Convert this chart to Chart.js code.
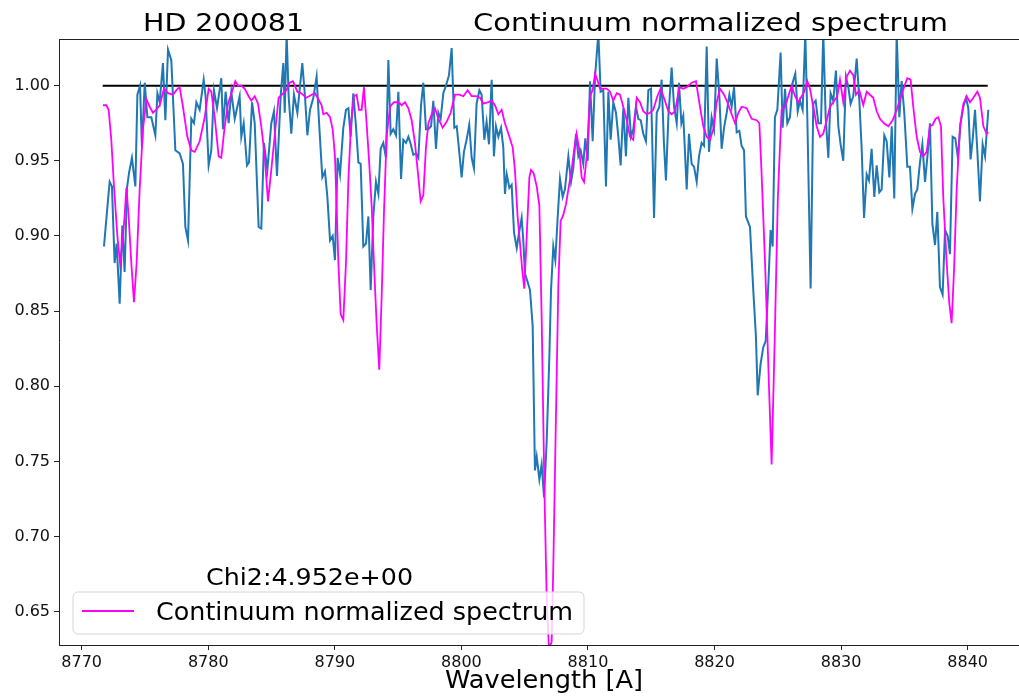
<!DOCTYPE html>
<html>
<head>
<meta charset="utf-8">
<title>HD 200081</title>
<script src="https://cdn.jsdelivr.net/npm/chart.js@4.4.1/dist/chart.umd.min.js"></script>
<style>
  body { margin: 0; background: #fff; }
  canvas { display: block; }
</style>
</head>
<body>
<canvas id="spectrumChart" width="1019" height="697"></canvas>
<script>
// Espectro observado (azul)
const obsWave = [
  8771.76, 8772.08, 8772.21, 8772.39, 8772.60, 8772.76, 8773.00, 8773.21, 8773.39, 8773.58,
  8773.74, 8773.97, 8774.24, 8774.40, 8774.61, 8774.76, 8774.98, 8775.19, 8775.50, 8775.82,
  8775.98, 8776.16, 8776.42, 8776.61, 8776.82, 8777.08, 8777.40, 8777.74, 8778.00, 8778.19,
  8778.40, 8778.66, 8778.87, 8779.06, 8779.32, 8779.64, 8779.79, 8780.03, 8780.24, 8780.45,
  8780.69, 8781.03, 8781.16, 8781.37, 8781.61, 8781.82, 8782.09, 8782.48, 8782.61, 8782.80,
  8783.06, 8783.22, 8783.46, 8783.67, 8783.98, 8784.19, 8784.40, 8784.67, 8784.98, 8785.19,
  8785.43, 8785.72, 8785.93, 8786.04, 8786.19, 8786.35, 8786.56, 8786.77, 8787.04, 8787.43,
  8787.64, 8787.83, 8788.04, 8788.30, 8788.56, 8788.77, 8789.01, 8789.22, 8789.41, 8789.62,
  8789.83, 8790.01, 8790.22, 8790.41, 8790.67, 8790.88, 8791.07, 8791.25, 8791.46, 8791.67,
  8791.86, 8792.04, 8792.25, 8792.46, 8792.65, 8792.83, 8793.04, 8793.25, 8793.44, 8793.62,
  8793.83, 8794.04, 8794.23, 8794.41, 8794.62, 8794.83, 8795.02, 8795.23, 8795.41, 8795.62,
  8795.81, 8796.00, 8796.20, 8796.41, 8796.60, 8796.81, 8796.99, 8797.20, 8797.39, 8797.60,
  8797.78, 8797.99, 8798.18, 8798.36, 8798.57, 8798.78, 8799.02, 8799.23, 8799.44, 8799.63,
  8799.84, 8800.02, 8800.20, 8800.41, 8800.62, 8800.81, 8800.99, 8801.20, 8801.42, 8801.60,
  8801.81, 8801.99, 8802.18, 8802.39, 8802.57, 8802.73, 8802.92, 8803.13, 8803.31, 8803.44,
  8803.58, 8803.79, 8803.97, 8804.16, 8804.37, 8804.55, 8804.76, 8804.89, 8805.02, 8805.21,
  8805.42, 8805.63, 8805.81, 8805.95, 8806.16, 8806.34, 8806.53, 8806.74, 8806.95, 8807.08,
  8807.26, 8807.42, 8807.61, 8807.79, 8808.00, 8808.18, 8808.45, 8808.66, 8808.84, 8809.05,
  8809.24, 8809.42, 8809.63, 8809.79, 8809.98, 8810.16, 8810.37, 8810.56, 8810.82, 8811.00,
  8811.21, 8811.42, 8811.61, 8811.79, 8812.00, 8812.21, 8812.40, 8812.58, 8812.79, 8813.00,
  8813.19, 8813.40, 8813.58, 8813.79, 8813.98, 8814.17, 8814.37, 8814.58, 8814.77, 8814.98,
  8815.22, 8815.43, 8815.64, 8815.82, 8816.00, 8816.16, 8816.35, 8816.61, 8816.80, 8817.01,
  8817.19, 8817.38, 8817.53, 8817.80, 8817.98, 8818.19, 8818.38, 8818.59, 8818.77, 8818.98,
  8819.17, 8819.38, 8819.56, 8819.77, 8819.96, 8820.17, 8820.38, 8820.56, 8820.75, 8820.96,
  8821.17, 8821.35, 8821.54, 8821.75, 8821.96, 8822.14, 8822.33, 8822.48, 8822.80, 8823.06,
  8823.27, 8823.41, 8823.64, 8823.85, 8824.04, 8824.25, 8824.43, 8824.59, 8824.77, 8824.96,
  8825.22, 8825.38, 8825.57, 8825.75, 8825.96, 8826.17, 8826.38, 8826.57, 8826.75, 8826.96,
  8827.17, 8827.33, 8827.59, 8827.80, 8827.99, 8828.20, 8828.41, 8828.59, 8828.78, 8828.99,
  8829.17, 8829.38, 8829.59, 8829.78, 8829.96, 8830.17, 8830.38, 8830.57, 8830.75, 8830.96,
  8831.23, 8831.44, 8831.62, 8831.81, 8832.02, 8832.20, 8832.41, 8832.62, 8832.81, 8833.02,
  8833.20, 8833.41, 8833.60, 8833.81, 8834.00, 8834.20, 8834.39, 8834.60, 8834.78, 8834.99,
  8835.23, 8835.44, 8835.63, 8835.84, 8836.02, 8836.23, 8836.42, 8836.63, 8836.84, 8837.02,
  8837.21, 8837.42, 8837.60, 8837.81, 8838.02, 8838.21, 8838.42, 8838.60, 8838.81, 8839.02,
  8839.23, 8839.44, 8839.66, 8839.87, 8840.05, 8840.23, 8840.39, 8840.58, 8840.76, 8840.97,
  8841.18, 8841.37, 8841.63
];
const obsFlux = [
  0.893, 0.924, 0.936, 0.933, 0.882, 0.895, 0.855, 0.907, 0.876, 0.932,
  0.942, 0.952, 0.933, 0.994, 1.000, 0.959, 1.002, 0.979, 0.979, 0.967,
  0.995, 0.989, 1.015, 0.977, 1.024, 1.017, 0.957, 0.955, 0.948, 0.906,
  0.897, 0.978, 0.975, 0.989, 0.984, 1.004, 0.993, 0.947, 0.957, 0.997,
  0.985, 1.005, 0.971, 0.996, 0.975, 0.996, 0.978, 0.993, 0.966, 0.975,
  0.947, 0.949, 0.989, 0.975, 0.906, 0.905, 0.962, 0.944, 0.975, 0.983,
  0.940, 0.993, 1.015, 0.982, 1.035, 0.993, 0.968, 0.994, 0.982, 1.015,
  0.993, 0.967, 0.984, 0.992, 1.006, 0.973, 0.939, 0.943, 0.926, 0.897,
  0.900, 0.884, 0.952, 0.941, 0.972, 0.984, 0.985, 0.966, 0.995, 0.973,
  0.949, 0.948, 0.893, 0.895, 0.913, 0.864, 0.913, 0.936, 0.928, 0.958,
  0.962, 0.952, 1.017, 0.968, 0.971, 0.967, 0.996, 0.938, 0.964, 0.962,
  0.966, 0.961, 0.954, 0.955, 0.952, 0.987, 1.002, 0.971, 0.971, 0.973,
  0.990, 0.958, 0.982, 0.978, 0.995, 1.000, 1.007, 1.025, 0.972, 0.973,
  0.955, 0.939, 0.956, 0.964, 0.974, 0.952, 0.945, 0.988, 0.997, 0.994,
  0.964, 0.976, 0.961, 1.004, 0.953, 0.973, 0.966, 0.972, 0.959, 0.928,
  0.941, 0.932, 0.934, 0.902, 0.892, 0.902, 0.912, 0.897, 0.875, 0.870,
  0.864, 0.840, 0.744, 0.753, 0.738, 0.748, 0.726, 0.764, 0.820, 0.864,
  0.893, 0.884, 0.913, 0.938, 0.926, 0.931, 0.953, 0.936, 0.945, 0.968,
  0.953, 0.957, 0.948, 0.965, 0.950, 1.003, 0.963, 1.006, 1.035, 0.996,
  0.997, 0.933, 0.996, 0.964, 0.989, 0.982, 0.966, 0.947, 0.985, 0.953,
  0.992, 0.966, 0.971, 0.986, 0.978, 0.977, 0.968, 0.963, 0.997, 0.998,
  0.912, 0.982, 0.986, 1.004, 0.962, 0.937, 0.979, 1.012, 0.986, 0.975,
  1.002, 0.975, 0.980, 0.931, 0.968, 0.948, 0.946, 0.936, 0.953, 0.962,
  0.960, 1.026, 0.956, 0.979, 0.971, 1.018, 0.993, 0.958, 0.972, 0.982,
  0.994, 0.986, 0.999, 0.969, 0.970, 0.960, 0.957, 0.913, 0.906, 0.864,
  0.833, 0.794, 0.815, 0.826, 0.830, 0.868, 0.904, 0.893, 0.979, 0.984,
  1.022, 0.972, 0.998, 0.975, 0.979, 1.002, 1.008, 0.983, 0.990, 0.984,
  1.035, 0.979, 0.865, 0.988, 0.990, 0.975, 0.975, 1.035, 0.979, 0.952,
  0.995, 0.990, 1.010, 0.973, 0.961, 0.950, 1.006, 0.999, 0.988, 0.993,
  1.018, 0.990, 0.959, 0.912, 0.941, 0.937, 0.958, 0.926, 0.947, 0.929,
  0.931, 0.967, 0.963, 0.939, 0.973, 0.925, 1.035, 0.979, 1.003, 0.982,
  0.946, 0.946, 0.918, 0.928, 0.931, 0.949, 0.961, 0.936, 0.955, 0.975,
  0.908, 0.894, 0.916, 0.866, 0.861, 0.904, 0.900, 0.888, 0.966, 0.965,
  0.952, 0.975, 0.986, 0.992, 0.985, 0.951, 0.964, 0.984, 0.957, 0.923,
  0.961, 0.953, 0.984
];

// Espectro ajustado (magenta)
const fitWave = [
  8771.68, 8771.95, 8772.13, 8772.34, 8772.55, 8772.82, 8773.03, 8773.21, 8773.39, 8773.53,
  8773.71, 8773.92, 8774.13, 8774.34, 8774.58, 8774.84, 8775.11, 8775.37, 8775.63, 8775.90,
  8776.16, 8776.50, 8776.82, 8777.21, 8777.48, 8777.74, 8778.00, 8778.35, 8778.66, 8778.93,
  8779.32, 8779.72, 8780.03, 8780.24, 8780.51, 8780.82, 8781.03, 8781.30, 8781.56, 8781.87,
  8782.14, 8782.35, 8782.61, 8782.88, 8783.19, 8783.40, 8783.67, 8783.93, 8784.19, 8784.46,
  8784.72, 8784.98, 8785.30, 8785.56, 8785.82, 8786.17, 8786.43, 8786.69, 8787.04, 8787.35,
  8787.75, 8788.17, 8788.43, 8788.70, 8788.96, 8789.09, 8789.35, 8789.62, 8789.83, 8790.01,
  8790.14, 8790.28, 8790.46, 8790.67, 8790.88, 8791.07, 8791.28, 8791.51, 8791.72, 8791.91,
  8792.12, 8792.30, 8792.51, 8792.72, 8792.91, 8793.09, 8793.30, 8793.51, 8793.70, 8793.88,
  8794.09, 8794.36, 8794.67, 8795.02, 8795.28, 8795.54, 8795.81, 8796.07, 8796.33, 8796.60,
  8796.78, 8796.99, 8797.20, 8797.39, 8797.65, 8797.91, 8798.18, 8798.52, 8798.83, 8799.15,
  8799.49, 8799.84, 8800.15, 8800.49, 8800.81, 8801.15, 8801.47, 8801.73, 8802.13, 8802.39,
  8802.65, 8802.92, 8803.18, 8803.44, 8803.79, 8804.05, 8804.23, 8804.44, 8804.63, 8804.81,
  8804.97, 8805.16, 8805.37, 8805.50, 8805.70, 8805.95, 8806.16, 8806.34, 8806.55, 8806.74,
  8806.92, 8807.13, 8807.26, 8807.47, 8807.66, 8807.84, 8808.05, 8808.26, 8808.45, 8808.71,
  8808.90, 8809.10, 8809.32, 8809.50, 8809.69, 8809.90, 8810.16, 8810.37, 8810.56, 8810.74,
  8810.95, 8811.21, 8811.48, 8811.74, 8812.00, 8812.27, 8812.53, 8812.79, 8813.06, 8813.32,
  8813.58, 8813.85, 8814.11, 8814.37, 8814.64, 8814.90, 8815.16, 8815.48, 8815.74, 8816.08,
  8816.35, 8816.61, 8816.88, 8817.22, 8817.53, 8817.80, 8818.19, 8818.53, 8818.85, 8819.11,
  8819.38, 8819.64, 8819.90, 8820.17, 8820.43, 8820.75, 8821.01, 8821.35, 8821.62, 8821.88,
  8822.14, 8822.54, 8822.93, 8823.33, 8823.54, 8823.70, 8824.00, 8824.30, 8824.51, 8824.75,
  8825.00, 8825.17, 8825.30, 8825.57, 8825.83, 8826.09, 8826.36, 8826.62, 8826.88, 8827.09,
  8827.33, 8827.54, 8827.80, 8828.07, 8828.33, 8828.59, 8828.86, 8829.12, 8829.38, 8829.70,
  8829.91, 8830.17, 8830.44, 8830.70, 8830.96, 8831.17, 8831.44, 8831.75, 8832.02, 8832.28,
  8832.54, 8832.81, 8833.07, 8833.39, 8833.73, 8834.07, 8834.39, 8834.70, 8834.97, 8835.23,
  8835.49, 8835.70, 8835.97, 8836.23, 8836.49, 8836.76, 8837.02, 8837.23, 8837.47, 8837.68,
  8837.89, 8838.07, 8838.34, 8838.55, 8838.73, 8838.92, 8839.13, 8839.39, 8839.66, 8839.92,
  8840.18, 8840.45, 8840.76, 8840.97, 8841.24, 8841.50, 8841.63
];
const fitFlux = [
  0.987, 0.987, 0.984, 0.964, 0.933, 0.900, 0.882, 0.895, 0.913, 0.932,
  0.913, 0.882, 0.856, 0.882, 0.931, 0.971, 0.991, 0.986, 0.982, 0.984,
  0.987, 0.998, 0.995, 0.994, 0.997, 0.999, 0.986, 0.966, 0.957, 0.956,
  0.963, 0.979, 0.998, 0.996, 0.979, 0.953, 0.952, 0.973, 0.988, 0.996,
  1.003, 1.000, 1.000, 0.998, 0.993, 0.990, 0.993, 0.988, 0.973, 0.953,
  0.923, 0.944, 0.971, 0.992, 0.994, 0.997, 1.002, 1.003, 0.996, 0.995,
  0.992, 0.994, 0.995, 0.991, 0.987, 0.981, 0.982, 0.979, 0.971, 0.953,
  0.920, 0.882, 0.848, 0.844, 0.882, 0.937, 0.975, 0.993, 0.994, 0.984,
  0.984, 0.999, 0.975, 0.948, 0.920, 0.882, 0.842, 0.811, 0.860, 0.915,
  0.966, 0.986, 0.989, 0.989, 0.987, 0.989, 0.985, 0.977, 0.962, 0.939,
  0.923, 0.927, 0.959, 0.975, 0.981, 0.985, 0.978, 0.972, 0.976, 0.982,
  0.994, 0.994, 0.993, 0.997, 0.993, 0.993, 0.992, 0.988, 0.989, 0.990,
  0.987, 0.981, 0.984, 0.975, 0.966, 0.959, 0.944, 0.913, 0.895, 0.877,
  0.865, 0.900, 0.939, 0.944, 0.942, 0.933, 0.920, 0.846, 0.735, 0.658,
  0.625, 0.630, 0.680, 0.780, 0.868, 0.910, 0.914, 0.921, 0.931, 0.944,
  0.957, 0.968, 0.957, 0.939, 0.936, 0.953, 0.993, 0.997, 1.008, 1.004,
  0.998, 0.998, 0.998, 0.996, 0.990, 0.995, 0.994, 0.986, 0.977, 0.966,
  0.964, 0.992, 0.989, 0.983, 0.981, 0.982, 0.984, 0.993, 0.998, 0.990,
  0.983, 0.981, 0.983, 0.999, 0.998, 0.999, 1.002, 1.003, 0.986, 0.973,
  0.966, 0.964, 0.971, 0.989, 0.998, 0.994, 0.989, 0.981, 0.975, 0.982,
  0.986, 0.985, 0.978, 0.977, 0.975, 0.945, 0.880, 0.800, 0.748, 0.830,
  0.925, 0.960, 0.984, 0.986, 0.993, 1.000, 0.993, 0.989, 0.993, 0.996,
  1.003, 0.998, 0.986, 0.973, 0.966, 0.968, 0.977, 0.986, 0.989, 0.993,
  1.004, 0.989, 1.006, 1.010, 1.007, 0.994, 0.997, 0.987, 0.996, 0.994,
  0.992, 0.983, 0.978, 0.975, 0.973, 0.977, 0.984, 0.992, 0.999, 1.005,
  1.004, 0.986, 0.966, 0.956, 0.953, 0.956, 0.973, 0.974, 0.978, 0.979,
  0.973, 0.926, 0.882, 0.855, 0.842, 0.877, 0.931, 0.973, 0.988, 0.993,
  0.989, 0.992, 0.996, 0.992, 0.973, 0.968, 0.969
];

// Linha do contínuo (preta)
const contWave = [8771.66, 8841.58];
const contFlux = [1.0, 1.0];

// Marcas dos eixos
const xTicks = [8770, 8780, 8790, 8800, 8810, 8820, 8830, 8840];
const yTicks = [0.65, 0.70, 0.75, 0.80, 0.85, 0.90, 0.95, 1.00];

const titleLeft = "HD 200081";
const titleRight = "Continuum normalized spectrum";
const chiText = "Chi2:4.952e+00";
const legendText = "Continuum normalized spectrum";
const xLabel = "Wavelength [A]";

const FONT = "'DejaVu Sans', 'Liberation Sans', sans-serif";

const toPoints = (xs, ys) => xs.map((x, i) => ({ x: x, y: ys[i] }));

// Escreve um texto ajustado à largura medida na imagem
function fitText(c, text, left, right, baseline, size) {
  c.font = size + "px " + FONT;
  c.textAlign = "left";
  c.textBaseline = "alphabetic";
  const w = c.measureText(text).width;
  c.save();
  c.translate(left, baseline);
  c.scale((right - left) / w, 1);
  c.fillText(text, 0, 0);
  c.restore();
}

// Títulos, rótulo do eixo, Chi2 e legenda
const textPlugin = {
  id: "texts",
  afterDraw(chart) {
    const c = chart.ctx;
    const area = chart.chartArea;
    c.save();
    c.fillStyle = "#000";

    // moldura superior
    c.strokeStyle = "#222";
    c.lineWidth = 1;
    c.beginPath();
    c.moveTo(area.left, area.top + 0.5);
    c.lineTo(area.right, area.top + 0.5);
    c.stroke();

    fitText(c, titleLeft, 143, 304, 31, 25);
    fitText(c, titleRight, 473, 948, 31, 25);
    fitText(c, xLabel, 445, 643, 688, 24);
    fitText(c, chiText, 206, 413, 585, 23);

    // caixa da legenda
    const bx = 73, by = 592, bw = 511, bh = 42, r = 5;
    c.beginPath();
    c.moveTo(bx + r, by);
    c.arcTo(bx + bw, by, bx + bw, by + bh, r);
    c.arcTo(bx + bw, by + bh, bx, by + bh, r);
    c.arcTo(bx, by + bh, bx, by, r);
    c.arcTo(bx, by, bx + bw, by, r);
    c.closePath();
    c.fillStyle = "rgba(255,255,255,0.8)";
    c.fill();
    c.strokeStyle = "#d5d5d5";
    c.lineWidth = 1;
    c.stroke();

    c.strokeStyle = "#ff00ff";
    c.lineWidth = 1.8;
    c.beginPath();
    c.moveTo(82, 611);
    c.lineTo(134, 611);
    c.stroke();

    c.fillStyle = "#000";
    fitText(c, legendText, 156, 573, 620, 24);
    c.restore();
  }
};

const axisStyle = {
  grid: { drawOnChartArea: false, drawTicks: true, tickLength: 5, color: "#222", tickWidth: 1 },
  border: { display: true, color: "#222", width: 1 }
};

const ctx = document.getElementById("spectrumChart").getContext("2d");
const spectrumChart = new Chart(ctx, {
  type: "line",
  data: {
    datasets: [
      {
        label: "Continuum normalized spectrum",
        data: toPoints(fitWave, fitFlux),
        borderColor: "#ff00ff",
        borderWidth: 1.8,
        order: 0
      },
      {
        label: "Observed",
        data: toPoints(obsWave, obsFlux),
        borderColor: "#1f77b4",
        borderWidth: 2,
        order: 1
      },
      {
        label: "Continuum",
        data: toPoints(contWave, contFlux),
        borderColor: "#000000",
        borderWidth: 2,
        order: 2
      }
    ]
  },
  options: {
    responsive: false,
    animation: false,
    layout: { padding: { top: 39, left: 0, right: 0, bottom: 0 } },
    elements: {
      point: { radius: 0 },
      line: { tension: 0, fill: false }
    },
    plugins: {
      legend: { display: false },
      tooltip: { enabled: false }
    },
    scales: {
      x: {
        type: "linear",
        min: 8768.207,
        max: 8844.054,
        afterBuildTicks: (s) => { s.ticks = xTicks.map((v) => ({ value: v })); },
        afterFit: (s) => { s.height = 52; },
        ticks: {
          font: { family: FONT, size: 16 },
          color: "#111",
          padding: 3,
          maxRotation: 0,
          autoSkip: false,
          callback: (v) => String(v)
        },
        ...axisStyle
      },
      y: {
        type: "linear",
        min: 0.62785,
        max: 1.03107,
        afterBuildTicks: (s) => { s.ticks = yTicks.map((v) => ({ value: v })); },
        afterFit: (s) => { s.width = 59; },
        ticks: {
          font: { family: FONT, size: 16 },
          color: "#111",
          padding: 4,
          autoSkip: false,
          callback: (v) => v.toFixed(2)
        },
        ...axisStyle
      }
    }
  },
  plugins: [textPlugin]
});
</script>
</body>
</html>
